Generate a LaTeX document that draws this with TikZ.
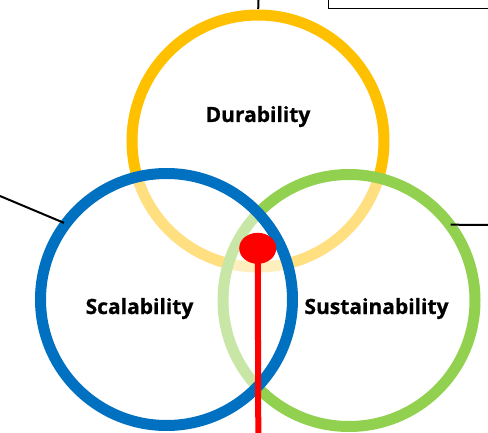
\documentclass[tikz,border=0pt]{standalone}
\usepackage{fontspec}
\setmainfont{Open Sans}[BoldFeatures={FakeBold=0.8}]
\usetikzlibrary{shapes.geometric}
\definecolor{cyel}{HTML}{FFC000}
\definecolor{cblu}{HTML}{0070C0}
\definecolor{cgrn}{HTML}{92D050}
\definecolor{cred}{HTML}{FF0000}
\tikzset{
  ring/.style={circle, draw=#1, line width=11pt, minimum size=252pt, inner sep=0pt, outer sep=0pt},
  veil/.style={fill=white, fill opacity=0.5},
  lbl/.style={font=\fontsize{21}{24}\selectfont\bfseries, anchor=base, inner sep=0pt},
  leader/.style={draw=black, line width=2pt},
}
\begin{document}
\begin{tikzpicture}[x=1pt, y=-1pt]
\clip (0,0) rectangle (488,433);
\fill[white] (0,0) rectangle (488,433);
% circles
\node[ring=cyel] (Y) at (258,141) {};
\node[ring=cgrn, veil] (G) at (349,300.5) {};
\node[ring=cblu, veil] (B) at (166.5,299.5) {};
% leaders
\coordinate (topend) at (258.5,0);
\coordinate (leftend) at (0,196);
\coordinate (rightend) at (488,225);
\draw[leader, shorten >=6pt] (topend) -- (Y.90);
\draw[leader, shorten >=2pt] (leftend) -- (B.143);
\draw[leader, shorten <=1pt] (G.37) -- (rightend);
\node[draw=black, line width=1.7pt, minimum width=200pt, minimum height=30pt, anchor=south west, inner sep=0pt] (box) at (327.5,9.5) {};
% labels
\node[lbl] (dur) at (258,122) {Durability};
\node[lbl] (sca) at (139.5,314) {Scalability};
\node[lbl] (sus) at (376.5,314) {Sustainability};
% red pointer
\node[ellipse, fill=cred, minimum width=37pt, minimum height=31pt, inner sep=0pt] (dot) at (257.7,248.3) {};
\coordinate (tail) at (258.3,433);
\draw[cred, line width=6pt] (dot.center) -- (tail);
\end{tikzpicture}
\end{document}
